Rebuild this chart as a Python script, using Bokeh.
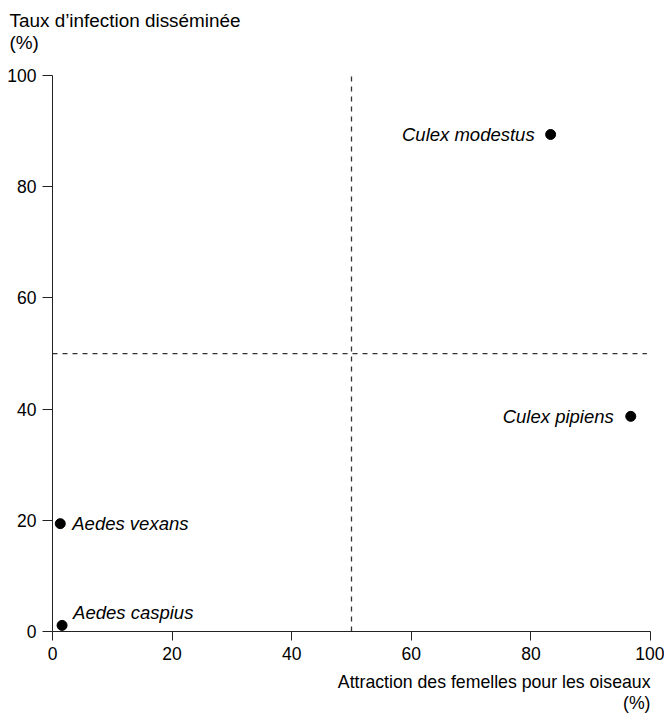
from bokeh.plotting import figure
from bokeh.models import Range1d, FixedTicker, Title, ColumnDataSource
from bokeh.core.properties import value
from bokeh.embed import file_html
from bokeh.resources import INLINE

# ---- data ----
species = ["Culex modestus", "Culex pipiens", "Aedes vexans", "Aedes caspius"]
attraction = [83.3, 96.7, 1.3, 1.6]      # x: Attraction des femelles pour les oiseaux (%)
infection = [89.4, 38.7, 19.4, 1.1]       # y: Taux d'infection disséminée (%)
ticks = [0, 20, 40, 60, 80, 100]
threshold_x = 50
threshold_y = 50
y_title = ["Taux d\u2019infection disséminée", "(%)"]
x_title = ["Attraction des femelles pour les oiseaux", "(%)"]

# ---- styles ----
label_align = ["right", "right", "left", "left"]
label_dx = [-16, -17, 12, 11]
label_dy = [0, 0, 0, -13]

FONT = "Liberation Sans"
FS_TICK = "17.5px"
FS_LAB = "18.5px"
FS_YT = "18.9px"
FS_XT = "17.7px"

Y_TOP = 100.55
p = figure(width=664, height=714, output_backend="svg", toolbar_location=None,
           x_range=Range1d(0, 100), y_range=Range1d(0, Y_TOP),
           min_border_left=52, min_border_right=14, min_border_top=72, min_border_bottom=83)
p.outline_line_color = None
p.grid.visible = False

for ax in (p.xaxis[0], p.yaxis[0]):
    ax.ticker = FixedTicker(ticks=ticks)
    ax.bounds = (0, 100)
    ax.axis_line_color = "#222222"
    ax.major_tick_line_color = "#222222"
    ax.minor_tick_line_color = None
    ax.major_tick_in = 0
    ax.major_label_text_font = FONT
    ax.major_label_text_font_size = FS_TICK
    ax.major_label_text_color = "black"
p.yaxis[0].major_tick_out = 10
p.yaxis[0].major_label_standoff = 6
p.xaxis[0].major_tick_out = 9
p.xaxis[0].major_label_standoff = 6

# dashed reference lines
p.segment(x0=[threshold_x], y0=[0], x1=[threshold_x], y1=[Y_TOP],
          line_color="#333333", line_width=1.3, line_dash="5 5")
p.segment(x0=[0], y0=[threshold_y], x1=[99.4], y1=[threshold_y],
          line_color="#333333", line_width=1.3, line_dash="5 5")

src = ColumnDataSource(dict(x=attraction, y=infection, name=species,
                            align=label_align, dx=label_dx, dy=label_dy))
p.scatter("x", "y", source=src, size=10, color="black")
p.text("x", "y", text="name", source=src, text_align="align", x_offset="dx", y_offset="dy",
       text_baseline="middle", text_font=value(FONT), text_font_style="italic",
       text_font_size=FS_LAB, text_color="black")

# axis titles as plot titles (above: y title, below: x title)
p.title = Title(text=y_title[0], align="left", offset=-43, standoff=-42,
                text_font=FONT, text_font_size=FS_YT, text_font_style="normal",
                text_color="black")
p.add_layout(Title(text=y_title[1], align="left", offset=-43, standoff=40,
                   text_font=FONT, text_font_size=FS_YT, text_font_style="normal",
                   text_color="black"), "above")
p.add_layout(Title(text=x_title[0], align="right", offset=0, standoff=15,
                   text_font=FONT, text_font_size=FS_XT, text_font_style="normal",
                   text_color="black"), "below")
p.add_layout(Title(text=x_title[1], align="right", offset=0, standoff=-18,
                   text_font=FONT, text_font_size=FS_XT, text_font_style="normal",
                   text_color="black"), "below")

open("out.html", "w").write(file_html(p, INLINE))
